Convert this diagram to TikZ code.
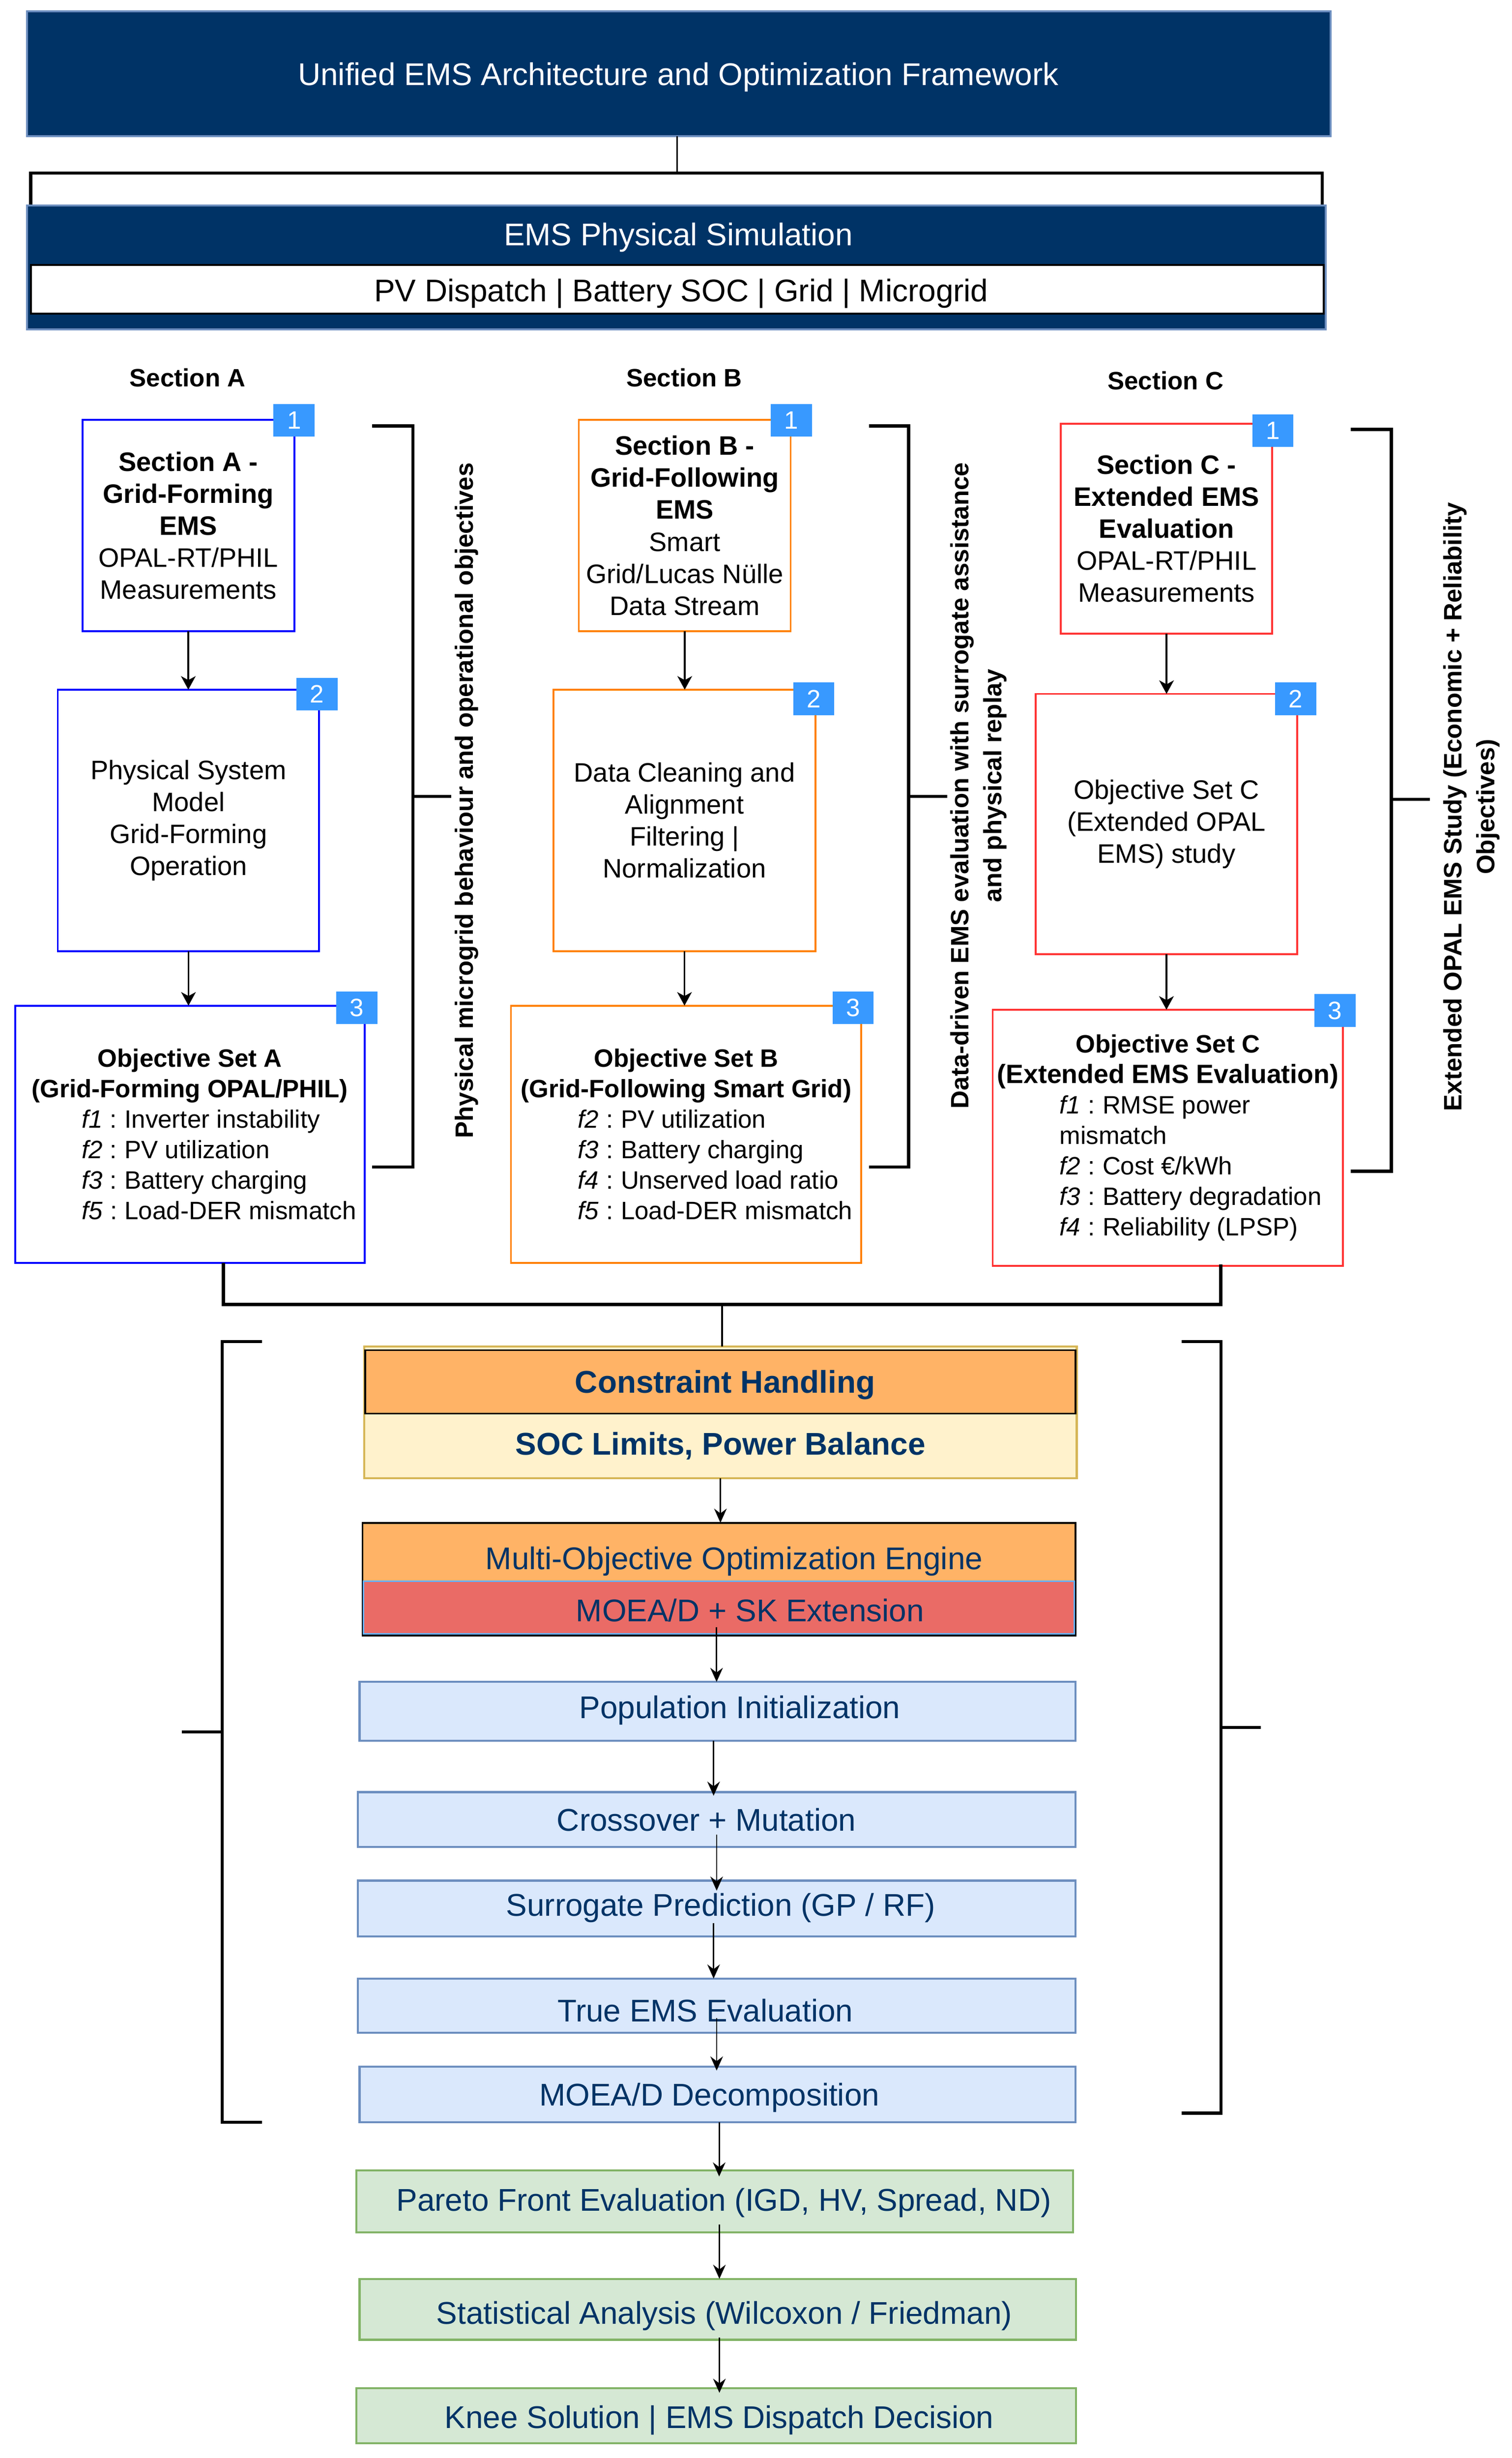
\documentclass[tikz,border=0pt]{standalone}
\usepackage{fontspec}
\setmainfont{Liberation Sans}
\usetikzlibrary{arrows.meta}
\definecolor{navy}{HTML}{003366}
\definecolor{topborder}{HTML}{6C8EBF}
\definecolor{blueA}{HTML}{0000FF}
\definecolor{orangeB}{HTML}{FF8000}
\definecolor{redC}{HTML}{FF3333}
\definecolor{badgeblue}{HTML}{3899FF}
\definecolor{chorange}{HTML}{FFB366}
\definecolor{chyellow}{HTML}{FFF2CC}
\definecolor{chgold}{HTML}{D6B656}
\definecolor{moered}{HTML}{EA6B66}
\definecolor{moeblue}{HTML}{66B2FF}
\definecolor{lblue}{HTML}{DAE8FC}
\definecolor{greenfill}{HTML}{D5E8D4}
\definecolor{greenborder}{HTML}{82B366}
\newcommand{\objl}[2]{\makebox[138pt][l]{\textit{#1}\hspace{0.3em}:\hspace{0.3em}#2}}
\begin{document}
\begin{tikzpicture}[x=1pt,y=-1pt,
 every node/.style={inner sep=0pt,outer sep=0pt},
 secbox/.style={draw=#1,line width=1.2pt,fill=white,align=center,font=\fontsize{17}{20.4}\selectfont},
 objbox/.style={draw=#1,line width=1.2pt,fill=white,align=center,font=\fontsize{16}{19.4}\selectfont},
 badge/.style={fill=badgeblue,text=white,minimum width=26.2pt,minimum height=20.8pt,font=\fontsize{16}{19}\selectfont},
 seclabel/.style={font=\bfseries\fontsize{16}{19}\selectfont},
 rotlabel/.style={rotate=90,align=center,font=\bfseries\fontsize{16}{21}\selectfont},
 arr/.style={line width=1.2pt,-{Stealth[length=8.6pt,width=9.3pt,inset=2.5pt]}},
 arrb/.style={line width=0.9pt,-{Stealth[length=9pt,width=8pt,inset=3pt]}},
 brk/.style={line width=2pt},
 navytext/.style={text=navy,font=\fontsize{20}{24}\selectfont},
 navybold/.style={text=navy,font=\bfseries\fontsize{20}{24}\selectfont},
 bluebox/.style={draw=topborder,fill=lblue,line width=1.3pt},
 greenbox/.style={draw=greenborder,fill=greenfill,line width=1.3pt},
]
\useasboundingbox (0,0) rectangle (963.33,1566.06);
\fill[white] (0,0) rectangle (963.33,1566.06);

% ---------- top ----------
\node[draw=topborder,fill=navy,line width=1.2pt,minimum width=830.7pt,minimum height=79.5pt] (title) at (432.55,46.95) {};
\node[text=white,font=\fontsize{20}{24}\selectfont] (titlet) at (432.2,49.3)
      {Unified EMS Architecture and Optimization Framework};
\coordinate (tj) at (431.4,110.3);
\coordinate (tl) at (19.6,131);
\coordinate (tr) at (842.5,131);
\draw[line width=1pt] (title.south -| tj) -- (tj);
\draw[brk] (tl) -- (tl |- tj) -- (tr |- tj) -- (tr);

\node[draw=topborder,fill=navy,line width=1.2pt,minimum width=827.6pt,minimum height=79pt] (ems) at (431,170.4) {};
\node[text=white,font=\fontsize{20}{24}\selectfont] (emst) at (432.2,151.3) {EMS Physical Simulation};
\node[draw=black,fill=white,line width=1.3pt,minimum width=823.9pt,minimum height=30.8pt] (emsrow) at (431.65,184.3) {};
\node[font=\fontsize{20}{24}\selectfont] (emsrowt) at (434.1,187) {PV Dispatch | Battery SOC | Grid | Microgrid};

% ---------- section labels ----------
\node[seclabel] (labA) at (119.5,240.5) {Section A};
\node[seclabel] (labB) at (436,240.5) {Section B};
\node[seclabel] (labC) at (742.7,242.4) {Section C};

% ---------- section A ----------
\node[secbox=blueA,minimum width=135pt,minimum height=134.5pt] (a1) at (120,334.85)
  {\textbf{Section A -}\\\textbf{Grid-Forming}\\\textbf{EMS}\\OPAL-RT/PHIL\\Measurements};
\node[secbox=blueA,minimum width=166.6pt,minimum height=166.6pt] (a2) at (120.1,522.7)
  {Physical System\\Model\\Grid-Forming\\Operation};
\node[objbox=blueA,minimum width=222.8pt,minimum height=163.9pt] (a3) at (121,722.65)
  {\textbf{Objective Set A}\\\textbf{(Grid-Forming OPAL/PHIL)}\\
   \objl{f1}{Inverter instability}\\\objl{f2}{PV utilization}\\
   \objl{f3}{Battery charging}\\\objl{f5}{Load-DER mismatch}};
\draw[arr] (a1.south) -- (a1.south |- a2.north);
\draw[arr] (a2.south) -- (a2.south |- a3.north);
\node[badge] (a1b) at (187.4,267.8) {1};
\node[badge] (a2b) at (202.05,442.25) {2};
\node[badge] (a3b) at (227.35,642) {3};

% ---------- section B ----------
\node[secbox=orangeB,minimum width=135pt,minimum height=134.5pt] (b1) at (436.3,334.85)
  {\textbf{Section B -}\\\textbf{Grid-Following}\\\textbf{EMS}\\Smart\\Grid/Lucas Nülle\\Data Stream};
\node[secbox=orangeB,minimum width=166.7pt,minimum height=166.6pt] (b2) at (436.15,522.7)
  {Data Cleaning and\\Alignment\\Filtering |\\Normalization};
\node[objbox=orangeB,minimum width=223.2pt,minimum height=163.9pt] (b3) at (437.2,722.65)
  {\textbf{Objective Set B}\\\textbf{(Grid-Following Smart Grid)}\\
   \objl{f2}{PV utilization}\\\objl{f3}{Battery charging}\\
   \objl{f4}{Unserved load ratio}\\\objl{f5}{Load-DER mismatch}};
\draw[arr] (b1.south) -- (b1.south |- b2.north);
\draw[arr] (b2.south) -- (b2.south |- b3.north);
\node[badge] (b1b) at (504.2,267.8) {1};
\node[badge] (b2b) at (518.55,445.25) {2};
\node[badge] (b3b) at (543.6,642) {3};

% ---------- section C ----------
\node[secbox=redC,minimum width=134.6pt,minimum height=133.7pt] (c1) at (743.3,336.75)
  {\textbf{Section C -}\\\textbf{Extended EMS}\\\textbf{Evaluation}\\OPAL-RT/PHIL\\Measurements};
\node[secbox=redC,minimum width=166.5pt,minimum height=165.8pt] (c2) at (743.25,525)
  {Objective Set C\\(Extended OPAL\\EMS) study};
\node[objbox=redC,minimum width=223.3pt,minimum height=163.2pt] (c3) at (744.15,724.9)
  {\textbf{Objective Set C}\\{\fontsize{16.8}{19.4}\selectfont\textbf{(Extended EMS Evaluation)}}\\
   \objl{f1}{RMSE power}\\\makebox[138pt][l]{mismatch}\\\objl{f2}{Cost €/kWh}\\
   \objl{f3}{Battery degradation}\\\objl{f4}{Reliability (LPSP)}};
\draw[arr] (c1.south) -- (c1.south |- c2.north);
\draw[arr] (c2.south) -- (c2.south |- c3.north);
\node[badge] (c1b) at (811,274.35) {1};
\node[badge] (c2b) at (825.65,445.25) {2};
\node[badge] (c3b) at (850.65,643.85) {3};

% ---------- side brackets + labels ----------
\draw[brk] (237,271.4) -- (263,271.4) -- (263,743.6) -- (237,743.6);
\draw[brk] (263,507.3) -- (287.4,507.3);
\node[rotlabel] (rotA) at (297.5,510) {Physical microgrid behaviour and operational objectives};
\draw[brk] (553.7,271.4) -- (579,271.4) -- (579,743.6) -- (553.7,743.6);
\draw[brk] (579,507.3) -- (603.7,507.3);
\node[rotlabel] (rotB) at (623.5,500.5) {Data-driven EMS evaluation with surrogate assistance\\and physical replay};
\draw[brk] (860.8,273.6) -- (886.5,273.6) -- (886.5,746.2) -- (860.8,746.2);
\draw[brk] (886.5,509.2) -- (911,509.2);
\node[rotlabel] (rotC) at (937.8,514) {Extended OPAL EMS Study (Economic + Reliability\\Objectives)};

% ---------- junction ----------
\coordinate (jl) at (142.4,831.2);
\coordinate (jr) at (777.8,831.2);
\coordinate (jm) at (460.1,831.2);
\draw[line width=2.2pt] (a3.south -| jl) -- (jl) -- (jr) -- ([yshift=1pt]c3.south -| jr);

% ---------- lower brackets ----------
\draw[brk] (166.8,854.8) -- (141.6,854.8) -- (141.6,1352.1) -- (166.8,1352.1);
\draw[brk] (141.6,1103.5) -- (116,1103.5);
\draw[brk] (752.8,854.8) -- (778,854.8) -- (778,1346.3) -- (752.8,1346.3);
\draw[brk] (778,1100.6) -- (803.5,1100.6);

% ---------- constraint handling ----------
\node[draw=chgold,fill=chyellow,line width=1.3pt,minimum width=454.1pt,minimum height=84.1pt] (ch) at (459.05,899.85) {};
\node[draw=black,fill=chorange,line width=1.1pt,minimum width=452.6pt,minimum height=40.3pt] (chtop) at (459.05,880.45) {};
\node[navybold] (chtopt) at (462,882.3) {Constraint Handling};
\node[navybold] (chsoc) at (459.1,921.3) {SOC Limits, Power Balance};
\draw[line width=1pt] (jm) -- (jm |- ch.north);

% ---------- MOEA engine ----------
\node[draw=black,fill=chorange,line width=1.2pt,minimum width=454.2pt,minimum height=71.9pt] (moe) at (458.1,1006.15) {};
\node[draw=moeblue,fill=moered,line width=1pt,minimum width=453pt,minimum height=33.5pt] (moesk) at (458.1,1024.3) {};
\node[navytext] (moet) at (467.8,994.6) {Multi-Objective Optimization Engine};
\node[navytext] (moeskt) at (477.9,1026) {MOEA/D + SK Extension};
\draw[arrb] (ch.south) -- (ch.south |- moe.north);

% ---------- process boxes ----------
\node[bluebox,minimum width=456.1pt,minimum height=37.5pt,
      label={[navytext,xshift=14.25pt,yshift=0.8pt]center:Population Initialization}] (pop) at (457.15,1090.35) {};
\node[bluebox,minimum width=457.1pt,minimum height=34.8pt,
      label={[navytext,xshift=-6.5pt,yshift=-0.3pt]center:Crossover + Mutation}] (cross) at (456.65,1159.2) {};
\node[bluebox,minimum width=457.1pt,minimum height=35.4pt,
      label={[navytext,xshift=2.6pt,yshift=0.3pt]center:Surrogate Prediction (GP / RF)}] (surr) at (456.65,1215.9) {};
\node[bluebox,minimum width=457.1pt,minimum height=34.4pt,
      label={[navytext,xshift=-7.2pt,yshift=-3.2pt]center:True EMS Evaluation}] (trueems) at (456.65,1277.8) {};
\node[bluebox,minimum width=456.1pt,minimum height=35.4pt,
      label={[navytext,xshift=-5.1pt,yshift=-2.2pt]center:MOEA/D Decomposition}] (moead) at (457.15,1334.4) {};
\node[greenbox,minimum width=456.8pt,minimum height=39.4pt,
      label={[navytext,xshift=5.8pt,yshift=-0.8pt]center:Pareto Front Evaluation (IGD, HV, Spread, ND)}] (pareto) at (455.4,1402.6) {};
\node[greenbox,minimum width=456.4pt,minimum height=38.8pt,
      label={[navytext,xshift=4.2pt,yshift=-4.3pt]center:Statistical Analysis (Wilcoxon / Friedman)}] (stat) at (457.3,1471.3) {};
\node[greenbox,minimum width=458.5pt,minimum height=35.1pt,
      label={[navytext,xshift=2pt,yshift=-2.8pt]center:Knee Solution | EMS Dispatch Decision}] (knee) at (456.25,1539.05) {};

% ---------- process arrows ----------
\draw[arrb] ([xshift=-1.5pt,yshift=5.5pt]moe.south) -- ([xshift=-1.5pt]moe.south |- pop.north);
\draw[arrb] ([xshift=-2.45pt]pop.south) -- ([xshift=-2.45pt,yshift=-2.3pt]pop.south |- cross.north);
\draw[arrb] ([yshift=7.8pt]cross.south) -- ([yshift=-6.4pt]cross.south |- surr.north);
\draw[arrb] ([xshift=-1.95pt,yshift=8.3pt]surr.south) -- ([xshift=-1.95pt]surr.south |- trueems.north);
\draw[arrb] ([yshift=9.2pt]trueems.south) -- ([yshift=-2.5pt]trueems.south |- moead.north);
\draw[arrb] ([xshift=1.1pt]moead.south) -- ([xshift=1.1pt,yshift=-3.8pt]moead.south |- pareto.north);
\draw[arrb] ([xshift=3pt,yshift=5.1pt]pareto.south) -- ([xshift=3pt]pareto.south |- stat.north);
\draw[arrb] ([xshift=1.1pt,yshift=1.4pt]stat.south) -- ([xshift=1.1pt,yshift=-3pt]stat.south |- knee.north);
\end{tikzpicture}
\end{document}
